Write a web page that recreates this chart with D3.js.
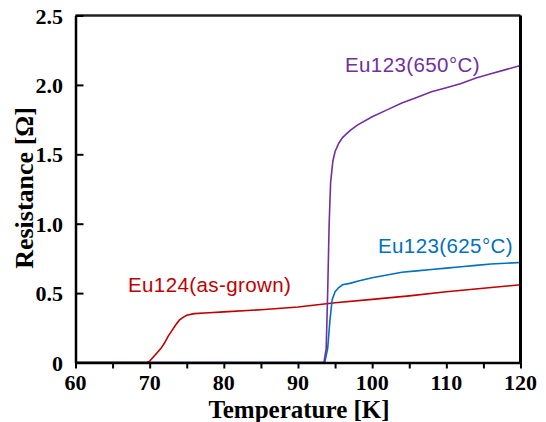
<!DOCTYPE html>
<html><head><meta charset="utf-8">
<script src="https://cdn.jsdelivr.net/npm/d3@7"></script>
<style>body{margin:0;background:#fff}</style>
</head><body>
<svg id="c" width="546" height="422"></svg>
<script>
const xTicks = [60,70,80,90,100,110,120];
const xMinorTicks = [60,65,70,75,80,85,90,95,100,105,110,115,120];
const yTicks = [0,0.5,1.0,1.5,2.0,2.5];
const yTickLabels = ["0","0.5","1.0","1.5","2.0","2.5"];

const eu124T = [60,69.6,70,70.5,71,71.5,72,72.5,73,73.5,74,74.5,75,76,78,80,85,90,95,100,105,110,115,120];
const eu124R = [0,0,0.01,0.04,0.07,0.1,0.14,0.19,0.23,0.27,0.305,0.325,0.34,0.352,0.358,0.365,0.38,0.40,0.43,0.455,0.48,0.51,0.535,0.56];

const eu625T = [60,93.6,94.0,94.3,94.6,95.0,95.5,96,97,98,100,102,104,106,108,110,112,114,116,118,120];
const eu625R = [0,0,0.1,0.3,0.45,0.51,0.54,0.56,0.57,0.585,0.61,0.63,0.65,0.66,0.67,0.68,0.69,0.70,0.71,0.715,0.72];

const eu650T = [60,93.5,93.8,94.0,94.2,94.4,94.7,95.0,95.5,96,97,98,100,102,104,106,108,110,112,114,116,118,120];
const eu650R = [0,0,0.1,0.5,1.0,1.3,1.45,1.52,1.58,1.62,1.67,1.71,1.77,1.82,1.87,1.91,1.95,1.98,2.01,2.05,2.08,2.11,2.14];

const seriesNames = ["Eu124(as-grown)","Eu123(625°C)","Eu123(650°C)"];
const seriesColors = ["#C00000","#0070C0","#7030A0"];

const svg = d3.select("#c");
const x = d3.scaleLinear().domain([60,120]).range([75.5,520.5]);
const y = d3.scaleLinear().domain([0,2.5]).range([362.5,15.5]);
const serif = "'Liberation Serif','Times New Roman',serif";
const sans = "'Liberation Sans',Arial,sans-serif";

const line = d3.line().x(d=>x(d[0])).y(d=>y(d[1]));
const data = [
  d3.zip(eu124T, eu124R),
  d3.zip(eu625T, eu625R),
  d3.zip(eu650T, eu650R)
];
[0,1,2].forEach(i=>{
  svg.append("path").datum(data[i]).attr("d",line)
    .attr("fill","none").attr("stroke",seriesColors[i]).attr("stroke-width",1.6);
});

// frame
svg.append("line").attr("x1",x(60)).attr("x2",x(120)).attr("y1",y(2.5)).attr("y2",y(2.5)).attr("stroke","#222").attr("stroke-width",2.5);
svg.append("line").attr("x1",x(120)).attr("x2",x(120)).attr("y1",y(2.5)).attr("y2",y(0)).attr("stroke","#000").attr("stroke-width",3);

// x axis
const xAxis = svg.append("g").attr("transform",`translate(0,${y(0)})`)
  .call(d3.axisBottom(x).tickValues(xMinorTicks).tickFormat("").tickSize(6).tickSizeOuter(0));
xAxis.select(".domain").attr("stroke","#000").attr("stroke-width",2.5);
xAxis.selectAll(".tick line").attr("stroke","#000").attr("stroke-width",2);
svg.append("g").selectAll("text").data(xTicks).join("text")
  .attr("x",d=>x(d)).attr("y",390).attr("text-anchor","middle")
  .attr("font-family",serif).attr("font-weight","bold").attr("font-size",22).text(d=>d);

// y axis
const yAxis = svg.append("g").attr("transform",`translate(${x(60)},0)`)
  .call(d3.axisRight(y).tickValues(yTicks).tickFormat("").tickSize(8).tickSizeOuter(0));
yAxis.select(".domain").attr("stroke","#000").attr("stroke-width",2.5);
yAxis.selectAll(".tick line").attr("stroke","#000").attr("stroke-width",2);
svg.append("g").selectAll("text").data(yTicks).join("text")
  .attr("x",63).attr("y",d=>y(d)+8).attr("text-anchor","end")
  .attr("font-family",serif).attr("font-weight","bold").attr("font-size",22).text((d,i)=>yTickLabels[i]);

// axis titles
svg.append("text").attr("x",299).attr("y",418).attr("text-anchor","middle")
  .attr("font-family",serif).attr("font-weight","bold").attr("font-size",25).text("Temperature [K]");
svg.append("text").attr("transform","translate(33,188) rotate(-90)").attr("text-anchor","middle")
  .attr("font-family",serif).attr("font-weight","bold").attr("font-size",26).text("Resistance [Ω]");

// annotations
const ann = [[128,292],[378,253],[345,72]];
ann.forEach((p,i)=>{
  svg.append("text").attr("x",p[0]).attr("y",p[1])
    .attr("font-family",sans).attr("font-size",20.5).attr("letter-spacing",0.4)
    .attr("fill",seriesColors[i]).text(seriesNames[i]);
});
</script>
</body></html>
